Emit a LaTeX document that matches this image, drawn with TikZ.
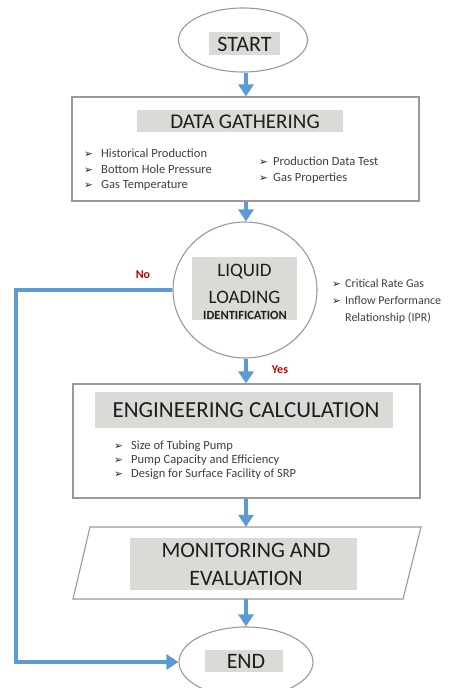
\documentclass[tikz,border=0pt]{standalone}
\usepackage{fontspec}
\setmainfont{Carlito}
\newfontfamily\symf{DejaVu Sans}
\usetikzlibrary{shapes.geometric,arrows.meta}
\definecolor{flowblue}{HTML}{5B9BD5}
\definecolor{titlegray}{HTML}{D9DBD6}
\definecolor{edgegray}{HTML}{999999}
\definecolor{inkc}{HTML}{1E1E1E}
\definecolor{labred}{HTML}{C00000}
\newcommand\bsym{{\symf\fontsize{10.5}{10}\selectfont ➢}}
\tikzset{
  flowarrow/.style={draw=flowblue,line width=4.5pt,-{Triangle[width=15pt,length=12pt]}},
  shapeedge/.style={draw=edgegray,line width=1.1pt,fill=white},
  graybox/.style={fill=titlegray,inner sep=0pt},
  titletext/.style={text=inkc,inner sep=0pt,anchor=center},
  bultext/.style={text=inkc!85,inner sep=0pt,anchor=base west,font=\fontsize{12.5}{14}\selectfont},
  bulsym/.style={text=inkc,inner sep=0pt,anchor=base west},
  yesno/.style={text=labred,inner sep=0pt,font=\bfseries\fontsize{12}{14}\selectfont}
}
\begin{document}
\begin{tikzpicture}[x=1pt,y=-1pt]
\useasboundingbox (0,0) rectangle (457,688);
\coordinate (ax) at (246,0);
% START
\node[shapeedge,ellipse,minimum width=129pt,minimum height=64pt] (start) at (243,40) {};
\node[graybox,minimum width=71pt,minimum height=23pt] (startbg) at (244.5,43.5) {};
\node[titletext,font=\fontsize{22}{24}\selectfont] (starttx) at (244.5,44) {START};
% DATA GATHERING
\node[shapeedge,rectangle,minimum width=347pt,minimum height=104pt] (data) at (245.5,149) {};
\node[graybox,minimum width=206pt,minimum height=22pt] (databg) at (240,121) {};
\node[titletext,font=\fontsize{21}{24}\selectfont] (datatx) at (245,121.5) {DATA GATHERING};
\node[bulsym] (d1s) at (84,157) {\bsym};
\node[bultext] (d1) at (101,157) {Historical Production};
\node[bulsym] (d2s) at (84,173) {\bsym};
\node[bultext] (d2) at (101,173) {Bottom Hole Pressure};
\node[bulsym] (d3s) at (84,188) {\bsym};
\node[bultext] (d3) at (101,188) {Gas Temperature};
\node[bulsym] (d4s) at (259,165) {\bsym};
\node[bultext] (d4) at (273,165) {Production Data Test};
\node[bulsym] (d5s) at (259,181) {\bsym};
\node[bultext] (d5) at (273,181) {Gas Properties};
% LIQUID LOADING
\node[shapeedge,ellipse,minimum width=144pt,minimum height=136pt] (liq) at (245,290) {};
\node[graybox,minimum width=105pt,minimum height=63pt] (liqbg) at (244.5,288.5) {};
\node[titletext,font=\fontsize{19}{22}\selectfont] (liq1) at (244.5,272) {LIQUID};
\node[titletext,font=\fontsize{19}{22}\selectfont] (liq2) at (244.5,297) {LOADING};
\node[titletext,font=\bfseries\fontsize{12.5}{14}\selectfont] (liq3) at (245,315) {IDENTIFICATION};
\node[bulsym] (l1s) at (332,287) {\bsym};
\node[bultext,font=\fontsize{12}{14}\selectfont] (l1) at (345,287) {Critical Rate Gas};
\node[bulsym] (l2s) at (332,304) {\bsym};
\node[bultext,font=\fontsize{12}{14}\selectfont] (l2) at (345,304) {Inflow Performance};
\node[bultext,font=\fontsize{12}{14}\selectfont] (l3) at (345,321) {Relationship (IPR)};
% ENGINEERING
\node[shapeedge,rectangle,minimum width=347pt,minimum height=114pt] (eng) at (246.5,441) {};
\node[graybox,minimum width=298pt,minimum height=36pt] (engbg) at (244,410) {};
\node[titletext,font=\fontsize{23}{26}\selectfont] (engtx) at (246,410.5) {ENGINEERING CALCULATION};
\node[bulsym] (e1s) at (114,449) {\bsym};
\node[bultext] (e1) at (131,449) {Size of Tubing Pump};
\node[bulsym] (e2s) at (114,463) {\bsym};
\node[bultext] (e2) at (131,463) {Pump Capacity and Efficiency};
\node[bulsym] (e3s) at (114,477) {\bsym};
\node[bultext] (e3) at (131,477) {Design for Surface Facility of SRP};
% MONITORING
\draw[shapeedge] (90,527) -- (421,527) -- (403,599) -- (73,599) -- cycle;
\node[inner sep=0pt,minimum width=300pt,minimum height=72pt] (mon) at (246,563) {};
\node[graybox,minimum width=227pt,minimum height=52pt] (monbg) at (243.5,564) {};
\node[titletext,font=\fontsize{22}{24}\selectfont] (mon1) at (246,550) {MONITORING AND};
\node[titletext,font=\fontsize{22}{24}\selectfont] (mon2) at (246,578) {EVALUATION};
% END
\node[shapeedge,ellipse,minimum width=134pt,minimum height=70pt] (endn) at (246,662) {};
\node[graybox,minimum width=78pt,minimum height=22pt] (endbg) at (244,661) {};
\node[titletext,font=\fontsize{22}{24}\selectfont] (endtx) at (246,661.5) {END};
% connectors
\draw[flowarrow] (start.south -| ax) -- (data.north -| ax);
\draw[flowarrow] (data.south -| ax) -- (liq.north -| ax);
\draw[flowarrow] (liq.south -| ax) -- (eng.north -| ax);
\draw[flowarrow] (eng.south -| ax) -- (mon.north -| ax);
\draw[flowarrow] (mon.south -| ax) -- (endn.north -| ax);
\coordinate (nocorner) at (16,450);
\draw[flowarrow] (liq.west) -| (nocorner) |- (endn.west);
\node[yesno] (nolab) at (143,275) {No};
\node[yesno] (yeslab) at (280,370) {Yes};
\end{tikzpicture}
\end{document}
